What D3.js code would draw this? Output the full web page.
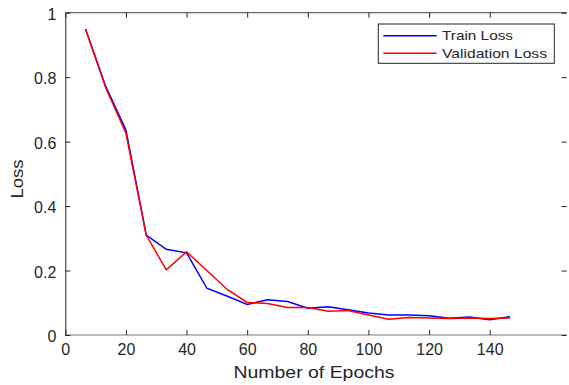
<!DOCTYPE html>
<html>
<head>
<meta charset="utf-8">
<script src="https://cdn.jsdelivr.net/npm/d3@7/dist/d3.min.js"></script>
<style>
  body { margin: 0; background: #fff; }
  text { font-family: "Liberation Sans", Arial, sans-serif; fill: #262626; }
</style>
</head>
<body>
<div id="vis"></div>
<script>
// epochs and loss values
var epochs = [6.7, 13.3, 20, 26.7, 33.3, 40, 46.7, 53.3, 60, 66.7, 73.3,
              80, 86.7, 93.3, 100, 106.7, 113.3, 120, 126.7, 133.3, 140, 146.7];
var trainLoss = [0.949, 0.772, 0.636, 0.31, 0.266, 0.255, 0.145, 0.121, 0.095, 0.109, 0.104,
                 0.083, 0.088, 0.078, 0.068, 0.062, 0.062, 0.06, 0.052, 0.056, 0.047, 0.057];
var valLoss = [0.949, 0.768, 0.626, 0.31, 0.202, 0.258, 0.2, 0.142, 0.101, 0.098, 0.085,
               0.085, 0.074, 0.076, 0.062, 0.049, 0.054, 0.053, 0.051, 0.053, 0.051, 0.053];
var xTicks = [0, 20, 40, 60, 80, 100, 120, 140];
var yTicks = [0, 0.2, 0.4, 0.6, 0.8, 1];
var seriesNames = ["Train Loss", "Validation Loss"];
var seriesColors = ["#0000ff", "#ff0000"];

function lossChart() {
    var width = 569;
    var height = 385;
    var left = 65.3, right = 566.7, top = 12.7, bottom = 335;

    var svg = d3.select("#vis")
        .append("svg")
        .attr("width", width)
        .attr("height", height);

    var x = d3.scaleLinear().domain([0, 165.4]).range([left, right]);
    var y = d3.scaleLinear().domain([0, 1]).range([bottom, top]);

    // box lines
    svg.append("line").attr("x1", left).attr("x2", right).attr("y1", top).attr("y2", top)
        .attr("stroke", "#444").attr("stroke-width", 1);
    svg.append("line").attr("x1", left).attr("x2", right).attr("y1", bottom).attr("y2", bottom)
        .attr("stroke", "#a6a6a6").attr("stroke-width", 1.3);

    // bottom axis
    var xAxis = svg.append("g")
        .attr("transform", "translate(0," + bottom + ")")
        .call(d3.axisBottom(x).tickValues(xTicks).tickSizeInner(-5).tickSizeOuter(0).tickPadding(9));
    xAxis.select(".domain").remove();
    xAxis.selectAll("line").attr("stroke", "#262626");
    xAxis.selectAll("text").attr("font-size", 16).attr("fill", "#262626");

    // top ticks
    var xTop = svg.append("g")
        .attr("transform", "translate(0," + top + ")")
        .call(d3.axisTop(x).tickValues(xTicks).tickSizeInner(-5).tickSizeOuter(0).tickFormat(""));
    xTop.select(".domain").remove();
    xTop.selectAll("line").attr("stroke", "#262626");

    // left axis
    var yAxis = svg.append("g")
        .attr("transform", "translate(" + left + ",0)")
        .call(d3.axisLeft(y).tickValues(yTicks).tickSizeInner(-5).tickSizeOuter(0).tickPadding(9)
            .tickFormat(d3.format("~g")));
    yAxis.select(".domain").attr("stroke", "#262626");
    yAxis.selectAll("line").attr("stroke", "#262626");
    yAxis.selectAll("text").attr("font-size", 16).attr("fill", "#262626").attr("dy", "0.42em");

    // right ticks
    var yRight = svg.append("g")
        .attr("transform", "translate(" + right + ",0)")
        .call(d3.axisRight(y).tickValues(yTicks).tickSizeInner(-5).tickSizeOuter(0).tickFormat(""));
    yRight.select(".domain").remove();
    yRight.selectAll("line").attr("stroke", "#262626");

    // axis labels
    svg.append("text")
        .attr("x", (left + right) / 2 - 2)
        .attr("y", 378)
        .attr("text-anchor", "middle")
        .attr("font-size", 17)
        .attr("textLength", 161)
        .attr("lengthAdjust", "spacingAndGlyphs")
        .text("Number of Epochs");

    svg.append("text")
        .attr("transform", "translate(23,179) rotate(-90)")
        .attr("text-anchor", "middle")
        .attr("font-size", 17)
        .attr("textLength", 39)
        .attr("lengthAdjust", "spacingAndGlyphs")
        .text("Loss");

    // lines
    var line = d3.line()
        .x(function (d) { return x(d[0]); })
        .y(function (d) { return y(d[1]); });

    [trainLoss, valLoss].forEach(function (vals, i) {
        svg.append("path")
            .datum(epochs.map(function (e, j) { return [e, vals[j]]; }))
            .attr("fill", "none")
            .attr("stroke", seriesColors[i])
            .attr("stroke-width", 1.5)
            .attr("d", line);
    });

    // legend
    var legend = svg.append("g");
    legend.append("rect")
        .attr("x", 378.3).attr("y", 24)
        .attr("width", 176).attr("height", 39.3)
        .attr("fill", "#fff")
        .attr("stroke", "#262626")
        .attr("stroke-width", 1);

    var textLens = [71, 105];
    seriesNames.forEach(function (name, i) {
        var ly = 35.7 + i * 17.6;
        legend.append("line")
            .attr("x1", 383.3).attr("x2", 436.7)
            .attr("y1", ly).attr("y2", ly)
            .attr("stroke", seriesColors[i])
            .attr("stroke-width", 1.5);
        legend.append("text")
            .attr("x", 442)
            .attr("y", ly + 4.5)
            .attr("font-size", 13)
            .attr("textLength", textLens[i])
            .attr("lengthAdjust", "spacingAndGlyphs")
            .text(name);
    });
}

lossChart();
</script>
</body>
</html>
